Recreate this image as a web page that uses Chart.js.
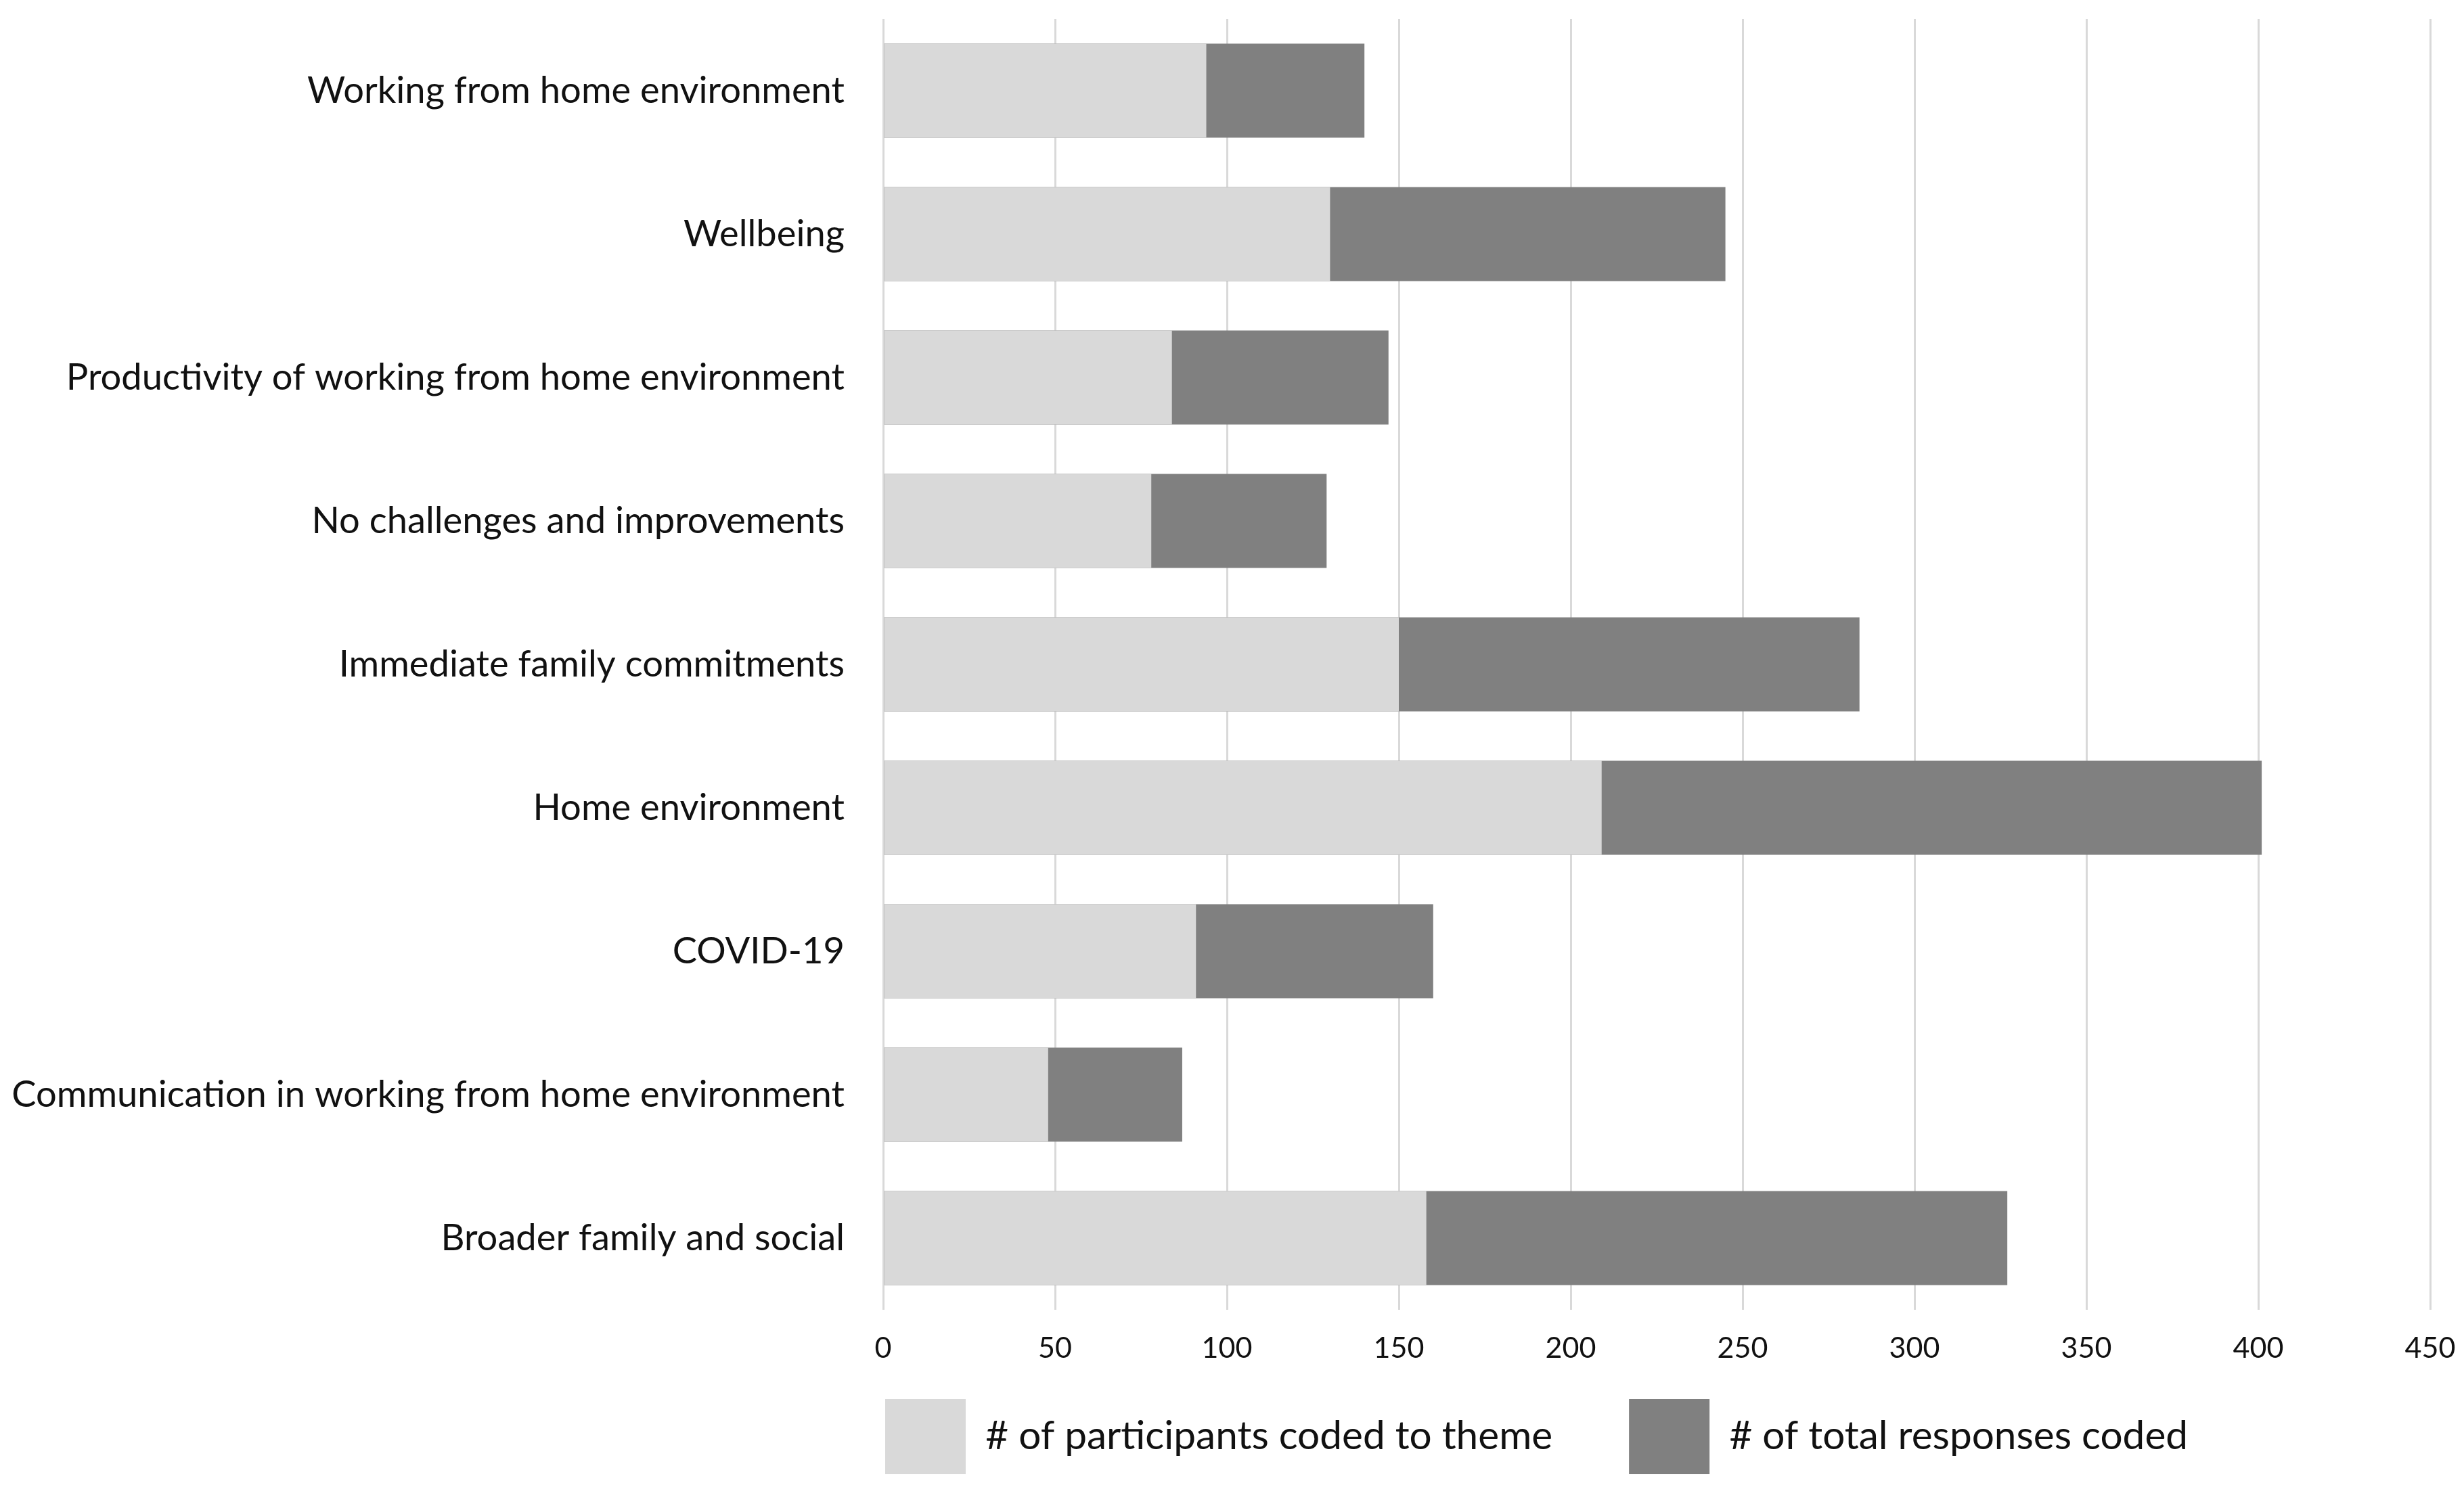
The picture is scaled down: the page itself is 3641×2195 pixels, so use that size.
<!DOCTYPE html>
<html>
<head>
<meta charset="utf-8">
<script src="https://cdn.jsdelivr.net/npm/chart.js@4/dist/chart.umd.min.js"></script>
<style>
  html, body { margin: 0; padding: 0; background: #ffffff; }
  #wrap { width: 3641px; height: 2195px; }
</style>
</head>
<body>
<div id="wrap"><canvas id="c" width="3641" height="2195"></canvas></div>
<script>
const categories = [
  'Working from home environment',
  'Wellbeing',
  'Productivity of working from home environment',
  'No challenges and improvements',
  'Immediate family commitments',
  'Home environment',
  'COVID-19',
  'Communication in working from home environment',
  'Broader family and social'
];
const participantsCoded = [94, 130, 84, 78, 150, 209, 91, 48, 158];
const totalResponses = [140, 245, 147, 129, 284, 401, 160, 87, 327];
const seriesLabels = ['# of participants coded to theme', '# of total responses coded'];
const xTickMin = 0, xTickMax = 450, xTickStep = 50;

const FONT = 'Lato, "Open Sans", sans-serif';
const TEXT = '#111111';

const legendPlacer = {
  id: 'legendPlacer',
  afterLayout(chart) {
    const lg = chart.legend;
    if (!lg) return;
    const p = lg.options.labels.padding;
    const w = lg.right - lg.left;
    lg.left = chart.chartArea.left + 3 - p;
    lg.right = lg.left + w;
    lg.top = chart.chartArea.bottom + 132 - p;
    lg.bottom = chart.height + p;
    lg.height = lg.bottom - lg.top;
  }
};

new Chart(document.getElementById('c'), {
  type: 'bar',
  data: {
    labels: categories,
    datasets: [
      { label: seriesLabels[0], data: participantsCoded, backgroundColor: '#d9d9d9', borderWidth: 0, grouped: false, barPercentage: 0.656, categoryPercentage: 1 },
      { label: seriesLabels[1], data: totalResponses, backgroundColor: '#808080', borderWidth: 0, grouped: false, barPercentage: 0.656, categoryPercentage: 1 }
    ]
  },
  options: {
    indexAxis: 'y',
    responsive: false,
    animation: false,
    devicePixelRatio: 1,
    layout: { padding: { top: 28, right: 50, left: 0, bottom: 0 } },
    scales: {
      x: {
        min: xTickMin, max: xTickMax,
        ticks: { stepSize: xTickStep, font: { family: FONT, size: 43 }, color: TEXT, padding: 31, maxRotation: 0 },
        grid: { color: '#d9d9d9', lineWidth: 3, drawTicks: false },
        border: { display: false },
        afterFit(scale) { scale.height = 119; scale.paddingLeft = 0; scale.paddingRight = 0; }
      },
      y: {
        ticks: { font: { family: FONT, size: 54.3 }, color: TEXT, padding: 57 },
        grid: { display: false, drawTicks: false },
        border: { display: false },
        afterFit(scale) { scale.width = 1305; scale.paddingTop = 0; scale.paddingBottom = 0; }
      }
    },
    plugins: {
      legend: {
        position: 'bottom',
        align: 'start',
        maxHeight: 140,
        labels: { boxWidth: 119, boxHeight: 111, padding: 113, color: TEXT, font: { family: FONT, size: 58.5 } }
      },
      tooltip: { enabled: false }
    }
  },
  plugins: [legendPlacer]
});
</script>
</body>
</html>
